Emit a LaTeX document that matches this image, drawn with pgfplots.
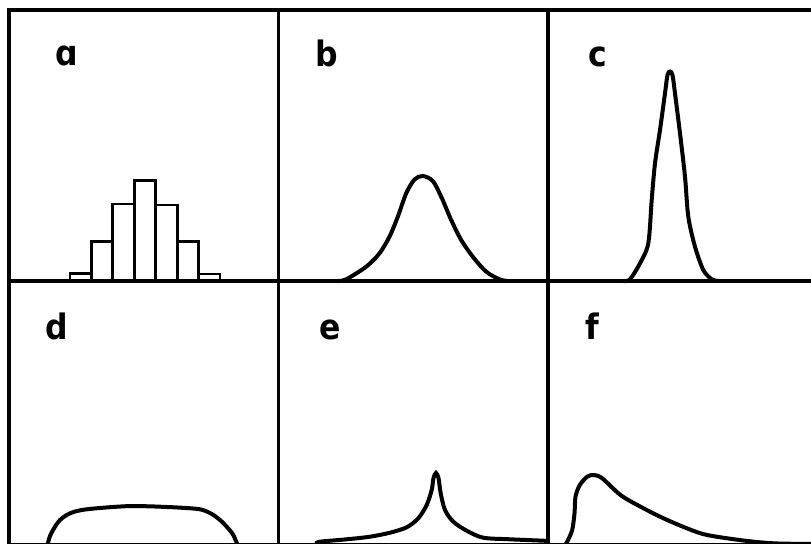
\documentclass[border=0pt]{standalone}
\usepackage{pgfplots}
\pgfplotsset{compat=1.18}
\usepackage{fontspec}
\setmainfont{DejaVu Sans}
\newfontfamily\lab{DejaVu Sans Condensed}
\tikzset{lbl/.style={anchor=base west, inner sep=0pt, font={\lab\bfseries\fontsize{17.5}{20}\selectfont}}}
\begin{document}
\begin{tikzpicture}
\useasboundingbox (0pt,0pt) rectangle (405.5pt,271.5pt);
\clip (0pt,0pt) rectangle (405.5pt,271.5pt);
\pgfplotsset{
  panel/.style={scale only axis, width=134.75pt, xmin=0, xmax=269.5, ymin=0,
    xtick=\empty, ytick=\empty, axis line style={line width=1.75pt},
    clip=false, anchor=south west},
  top/.style={height=135.5pt, ymax=271},
  bot/.style={height=132pt, ymax=264},
  curve/.style={black, line width=2pt, smooth, tension=0.5, no marks}
}
% a
\begin{axis}[panel, top, at={(4.5pt,131pt)}]
\addplot[ybar interval, draw=black, fill=white, line width=1.4pt]
 coordinates {(61,7.5)(82.4,39.7)(103.9,77)(125.3,100.5)(146.7,76)(168.2,39.7)(189.6,7)(211,0)};
\node[lbl] at (axis cs:46,215) {ɑ};
\end{axis}
% b
\begin{axis}[panel, top, at={(139.25pt,131pt)}]
\addplot[curve] coordinates {(59,0)(67.7,1.7)(87.7,14.3)(101,27.7)(111,44.3)(119.3,64.3)(127.7,87.7)(136,101.5)(144.3,105)(154.3,100)(162.7,84.3)(172.7,61)(182.7,41)(194.3,24.3)(207.7,9.3)(221,1.7)(229,0)};
\node[lbl] at (axis cs:37,215) {b};
\end{axis}
% c
\begin{axis}[panel, top, at={(274pt,131pt)}]
\addplot[curve] coordinates {(76,0)(82,1.7)(92,17.7)(100.3,37.7)(103.7,81)(107,117.7)(112,151)(117,187.7)(119.5,206)(122,209.5)(124.5,206)(127,187.7)(132,147.7)(137,104.3)(140.3,64.3)(147,34.3)(155.3,11)(163.7,1.7)(170,0)};
\node[lbl] at (axis cs:40,215) {c};
\end{axis}
% d
\begin{axis}[panel, bot, at={(4.5pt,-1pt)}]
\addplot[curve] coordinates {(38.5,0)(41,9)(46,18.3)(51,25)(57.7,30)(66,33.5)(77.7,35.7)(97,37.5)(117.7,38.8)(135,38.8)(151,38.3)(172,37.3)(191,35.7)(202,31.5)(211,25)(218,18)(224.3,10)(228.5,0)};
\node[lbl] at (axis cs:36,206) {d};
\end{axis}
% e
\begin{axis}[panel, bot, at={(139.25pt,-1pt)}]
\addplot[curve] coordinates {(38,1.5)(41.5,3.3)(68.2,5.7)(91.5,8.3)(111.5,12.3)(128.2,17.7)(139.8,26.7)(148.2,40)(153.2,55)(155,67)(157.5,72)(160,67)(162.2,51.7)(166.5,35)(174.8,23.3)(188.2,14.3)(204.8,7.3)(231.5,5.7)(264.8,4.3)(269.5,4)};
\node[lbl] at (axis cs:41,206) {e};
\end{axis}
% f
\begin{axis}[panel, bot, at={(274pt,-1pt)}]
\addplot[curve] coordinates {(17,0)(19.2,3.3)(24.2,15)(26.5,31.7)(27.5,48.3)(31.8,60)(39.2,68.3)(45.8,70)(54.2,66.7)(72.5,50)(92.5,38.3)(119.2,25)(152.5,11.7)(179.2,6.7)(205.8,3.3)(230,1.5)(269.5,1)};
\node[lbl] at (axis cs:37,206) {f};
\end{axis}
\end{tikzpicture}
\end{document}
